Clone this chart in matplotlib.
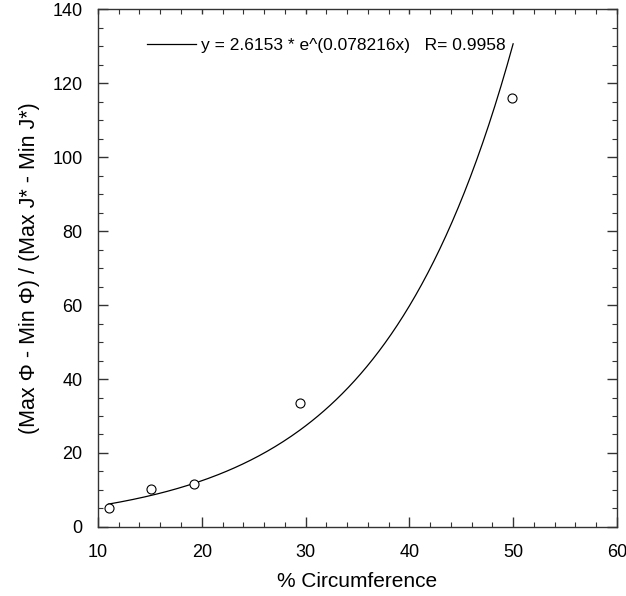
import numpy as np
import matplotlib
matplotlib.use("Agg")
import matplotlib.pyplot as plt
from matplotlib.ticker import MultipleLocator

plt.rcParams['font.family'] = ['Liberation Sans', 'DejaVu Sans']

# measured points
circumference = [11.1, 15.1, 19.3, 29.5, 49.9]
ratio = [5.0, 10.4, 11.5, 33.5, 116.0]

# exponential fit as printed on the chart
fit_a = 2.6153
fit_b = 0.078216
fit_r = 0.9958
fit_x_start = 11.0
fit_x_end = 50.0

fig = plt.figure(figsize=(6.26, 5.96), dpi=100)
ax = fig.add_axes([0.1565, 0.1158, 0.829, 0.869])

xs = np.linspace(fit_x_start, fit_x_end, 200)
ax.plot(xs, fit_a * np.exp(fit_b * xs), color='black', lw=0.9,
        label=f"y = {fit_a} * e^({fit_b}x)   R= {fit_r}")
ax.plot(circumference, ratio, 'o', mfc='white', mec='black', ms=6.5, mew=0.8)

ax.set_xlim(10, 60)
ax.set_ylim(0, 140)
ax.xaxis.set_major_locator(MultipleLocator(10))
ax.xaxis.set_minor_locator(MultipleLocator(2))
ax.yaxis.set_major_locator(MultipleLocator(20))
ax.yaxis.set_minor_locator(MultipleLocator(5))
ax.tick_params(which='both', direction='in', top=True, right=True,
               labelsize=13, color='#333333')
ax.tick_params(axis='x', which='both', pad=12)
ax.tick_params(axis='y', which='both', pad=11)
ax.tick_params(which='major', length=7, width=1)
ax.tick_params(which='minor', length=3.5, width=0.8)
# top edge: all ticks short
for t in ax.xaxis.get_major_ticks():
    t.tick2line.set_markersize(3.5)
for s in ax.spines.values():
    s.set_linewidth(1)
    s.set_color('#333333')

ax.set_xlabel('% Circumference', fontsize=15, labelpad=8)
ax.set_ylabel('(Max \u03a6 - Min \u03a6) / (Max J* - Min J*)', fontsize=15.5, labelpad=9)

ax.legend(loc='upper left', bbox_to_anchor=(0.065, 0.975), frameon=False,
          fontsize=12.5, handlelength=2.8, handletextpad=0.3)

fig.savefig('out.png', dpi=100)
